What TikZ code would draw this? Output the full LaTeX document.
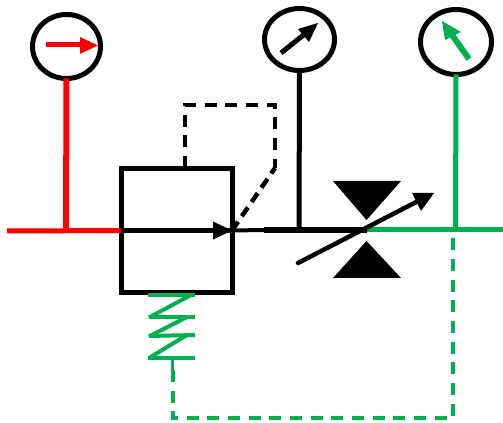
\documentclass[tikz,border=0pt]{standalone}
\usetikzlibrary{shapes.geometric}
\definecolor{pgreen}{HTML}{00B050}
\definecolor{pred}{HTML}{FF0000}
\tikzset{
  x=0.75pt,y=-0.75pt,
  px/.style={line width=#1*0.75pt},
  gauge/.style={draw=black,px=5,ellipse,inner sep=0pt,outer sep=0pt,fill=white},
  pipe/.style={px=5,line cap=butt},
  dash12/.style={px=#1,dash pattern=on 9pt off 6.5pt},
  headfill/.style={fill,draw=none},
  coil/.style={draw=pgreen,px=4,line join=round,line cap=butt},
}
\begin{document}
\begin{tikzpicture}
\useasboundingbox (0,0) rectangle (503,423);
% named points
\coordinate (inlet) at (7,231);
\coordinate (jred) at (66,231);
\coordinate (vc) at (366.5,230);
\coordinate (jblack) at (299,230);
\coordinate (jgreen) at (455.5,230);
\coordinate (outlet) at (503,230);
\coordinate (thick) at (264,230);
% nodes
\node[gauge,minimum width=51pt,minimum height=48pt] (g1) at (66.5,46.5) {};
\node[gauge,minimum width=52.5pt,minimum height=46.5pt] (g2) at (299.5,39.5) {};
\node[gauge,minimum width=53.25pt,minimum height=48.75pt] (g3) at (456,42) {};
\node[draw=black,px=5,rectangle,inner sep=0pt,outer sep=0pt,minimum width=83.25pt,minimum height=93pt] (box) at (176.5,230.5) {};
\coordinate (boxin) at (box.west);
\coordinate (boxtip) at (box.east);
\coordinate (pilot) at (185,168);
\coordinate (p1) at (185,105);
\coordinate (p2) at (275,105);
\coordinate (p3) at (275,168);
\coordinate (springtop) at (172.5,358);
\coordinate (d1) at (172.5,418);
\coordinate (d2) at (453,418);
\coordinate (d3) at (453,236);
% pipes
\draw[pred,px=6] (g1.south) -- (jred);
\draw[pred,pipe] (inlet) -- (boxin);
\draw[black,px=5] (g2.south) -- (jblack);
\draw[pgreen,px=5] (g3.south) -- (jgreen);
\draw[black,px=5] (boxin) -- (boxtip);
\draw[black,px=4] (boxtip) -- (thick);
\draw[black,px=5.5] (thick) -- (vc);
\draw[pgreen,pipe] (vc) -- (outlet);
% flow arrow head in box
\path[headfill] (boxtip) -- ++(-19,-9) -- ++(0,18) -- cycle;
% pilot dashed
\draw[black,dash12=3.5] (pilot) -- (p1) -- (p2) -- (p3);
\draw[black,px=4.5,dash pattern=on 8pt off 5pt] (boxtip) -- (p3);
% spring
\draw[coil] (148,295) -- (195,295);
\draw[coil] (191,295) -- (149,317.5);
\draw[coil] (149,317) -- (195,317);
\draw[coil] (187,317) -- (149,336.5);
\draw[coil] (149,336) -- (195,335);
\draw[coil] (187,335) -- (149,358);
\draw[coil] (148,358) -- (195,358);
% remote dashed
\draw[pgreen,px=3] (springtop) -- (172.5,370);
\draw[pgreen,dash12=4] (172.5,370) -- (d1) -- (d2) -- (d3);
% valve
\path[headfill] (333,181) -- (401,181) -- (366.5,220) -- cycle;
\path[headfill] (333,278) -- (401,278) -- (366.5,241) -- cycle;
\draw[black,px=4.5,line cap=round] (298,263) -- (424,198);
\path[headfill] (434,193) -- (412,193) -- (421,211) -- cycle;
% gauge needles
\draw[pred,px=5] (46,45) -- (82,45);
\path[headfill,pred] (98,45.5) -- (80,37) -- (80,54) -- cycle;
\draw[black,px=5] (281,53) -- (306,33);
\path[headfill] (318,23) -- (298,29) -- (309,42) -- cycle;
\draw[pgreen,px=6] (469,59) -- (452,35);
\path[headfill,pgreen] (442,21) -- (461,32) -- (445,40) -- cycle;
\end{tikzpicture}
\end{document}
